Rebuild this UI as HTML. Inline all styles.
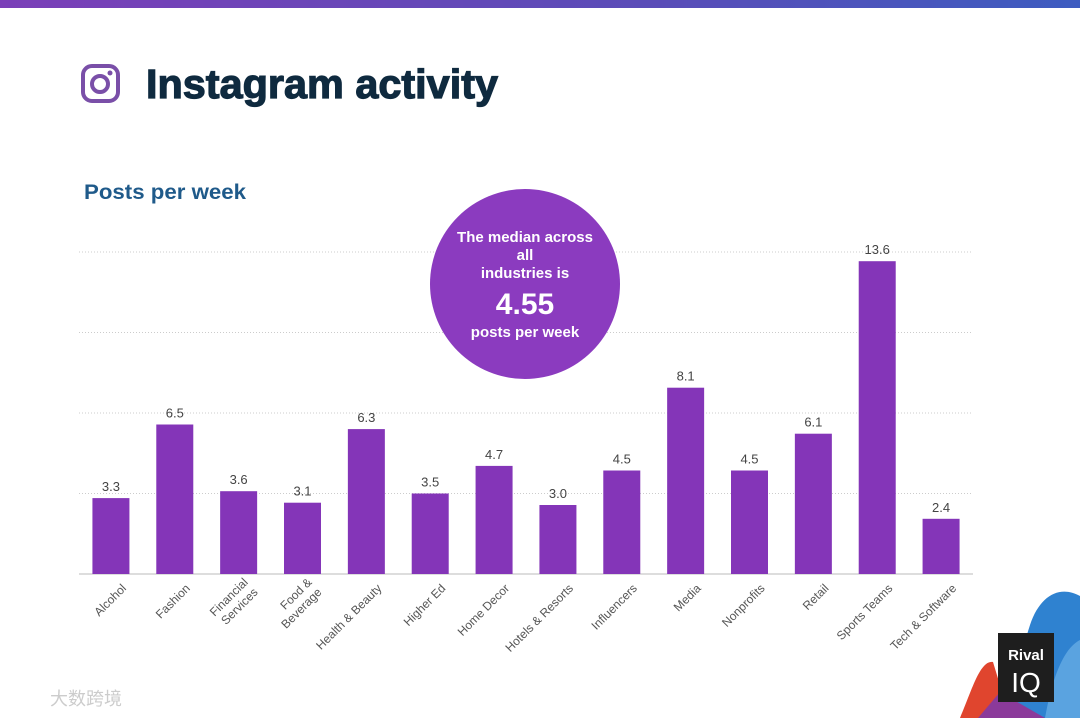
<!DOCTYPE html>
<html><head><meta charset="utf-8"><style>
body{margin:0;width:1080px;height:718px;overflow:hidden;background:#fff;font-family:"Liberation Sans","Noto Sans CJK SC",sans-serif;position:relative}
</style></head><body>
<div style="position:absolute;left:0;top:0;width:1080px;height:8px;background:linear-gradient(90deg,#7b3fb8,#5a4cb8 60%,#3d5cc0)"></div>
<svg width="1080" height="718" style="position:absolute;left:0;top:0" id="chart">
<g>
<rect x="83" y="66" width="35" height="35" rx="9" fill="none" stroke="#7a4fa8" stroke-width="4"/>
<circle cx="100" cy="84" r="8" fill="none" stroke="#7a4fa8" stroke-width="4"/>
<circle cx="110" cy="73" r="2.5" fill="#7a4fa8"/>
</g>
<text x="146" y="98" font-size="41" font-weight="bold" fill="#0f2a3f" stroke="#0f2a3f" stroke-width="1.2" textLength="352" lengthAdjust="spacingAndGlyphs">Instagram activity</text>
<text x="84" y="199" font-size="21" font-weight="bold" fill="#1f5a8a" textLength="162" lengthAdjust="spacingAndGlyphs">Posts per week</text>
<g id="grid"></g><g id="bars"></g>
<g>
<circle cx="525" cy="284" r="95" fill="#8b3bbf"/>
<text x="525" y="242" text-anchor="middle" font-size="15" font-weight="bold" fill="#fff">The median across</text>
<text x="525" y="260" text-anchor="middle" font-size="15" font-weight="bold" fill="#fff">all</text>
<text x="525" y="278" text-anchor="middle" font-size="15" font-weight="bold" fill="#fff">industries is</text>
<text x="525" y="314" text-anchor="middle" font-size="30" font-weight="bold" fill="#fff">4.55</text>
<text x="525" y="337" text-anchor="middle" font-size="15" font-weight="bold" fill="#fff">posts per week</text>
</g>
<g>
<path d="M1080 596 C1060 585 1040 595 1030 625 C1020 655 1015 690 1005 718 L1080 718Z" fill="#2f82d0"/>
<path d="M1080 640 C1060 650 1050 690 1045 718 L1080 718Z" fill="#5aa3e0"/>
<path d="M993 662 C980 660 972 690 960 718 L1010 718Z" fill="#e0452e"/>
<path d="M1000 692 L978 718 L1045 718Z" fill="#8b3a9a"/>
<rect x="998" y="633" width="56" height="69" fill="#1e1e1e"/>
<text x="1026" y="660" text-anchor="middle" font-size="15" font-weight="bold" fill="#fff">Rival</text>
<text x="1026" y="692" text-anchor="middle" font-size="28" fill="#fff">IQ</text>
</g>
<text x="50" y="705" font-size="18" fill="#ccc">大数跨境</text>
</svg>
<script>
const categories=["Alcohol","Fashion","Financial Services","Food & Beverage","Health & Beauty","Higher Ed","Home Decor","Hotels & Resorts","Influencers","Media","Nonprofits","Retail","Sports Teams","Tech & Software"];
const values=[3.3,6.5,3.6,3.1,6.3,3.5,4.7,3.0,4.5,8.1,4.5,6.1,13.6,2.4];
const gridTicks=[3.5,7,10.5,14];
const NS="http://www.w3.org/2000/svg";
const x0=79,x1=973,base=574,scale=23,step=(x1-x0)/categories.length,bw=37;
const y=v=>base-v*scale, cx=i=>x0+step*(i+0.5);
function mk(t,a,p){const e=document.createElementNS(NS,t);for(const k in a)e.setAttribute(k,a[k]);p.appendChild(e);return e;}
const grid=document.getElementById('grid'),bars=document.getElementById('bars');
gridTicks.forEach(t=>{const l=mk('line',{x1:x0,x2:x1,y1:y(t),y2:y(t),stroke:'#ccc','stroke-dasharray':'1 2'},grid);

});
const ax=mk('line',{x1:x0,x2:x1,y1:base,y2:base,stroke:'#bbb'},grid);


categories.forEach((c,i)=>{
const r=mk('rect',{x:cx(i)-bw/2,y:y(values[i]),width:bw,height:values[i]*scale,fill:'#8435b8'},bars);


const v=mk('text',{x:cx(i),y:y(values[i])-7,'text-anchor':'middle','font-size':13,fill:'#444'},bars);
v.textContent=values[i].toFixed(1);


const ax=cx(i)+16,ay=589;
const g=mk('text',{'text-anchor':'end','font-size':12,fill:'#555',transform:`translate(${ax},${ay}) rotate(-45)`},bars);


let lines=c==="Financial Services"?["Financial","Services"]:c==="Food & Beverage"?["Food &","Beverage"]:[c];
lines.forEach((s,j)=>{const ts=mk('tspan',{x:0,y:j*14},g);ts.textContent=s;});
if(lines.length>1){g.setAttribute('transform',`translate(${ax-6},${ay-6}) rotate(-45)`);}
});
</script>
</body></html>
